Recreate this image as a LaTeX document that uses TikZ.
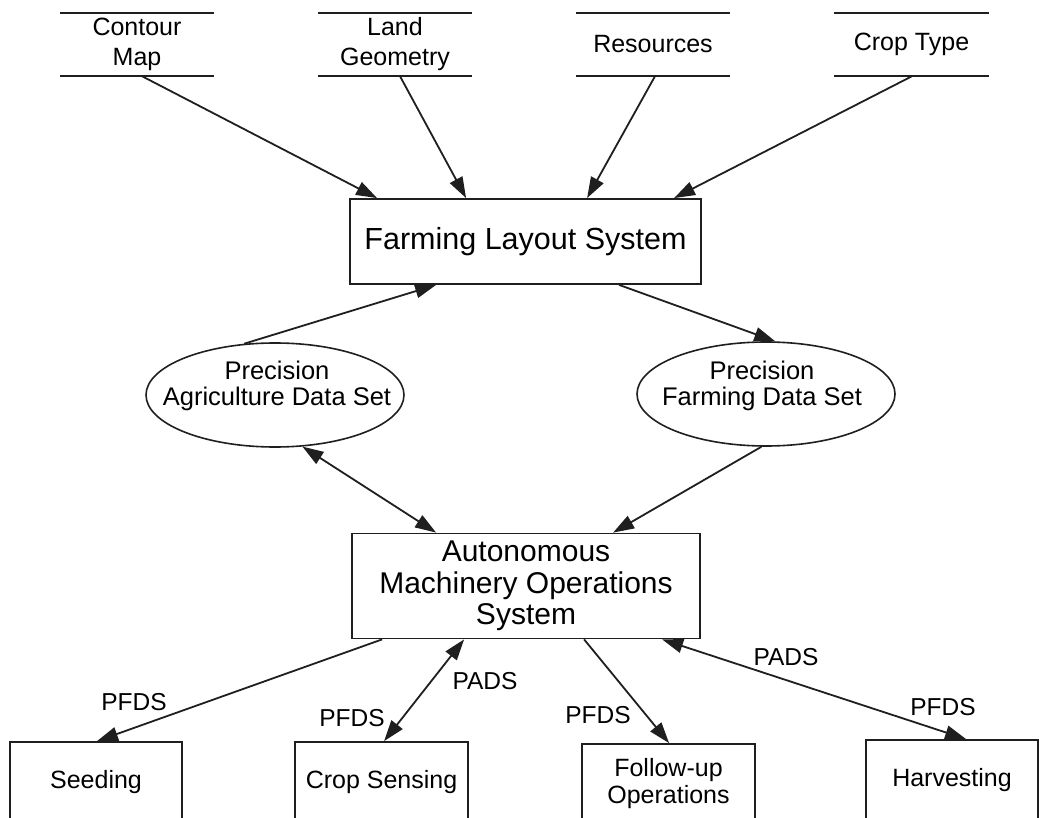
\documentclass[tikz,border=0pt]{standalone}
\usepackage{fontspec}
\setmainfont{Liberation Sans}
\usetikzlibrary{arrows.meta,shapes.geometric}
\tikzset{
  ink/.style={draw=black!88},
  boxnode/.style={ink, line width=1.8pt, rectangle, inner sep=0pt, align=center},
  storeline/.style={ink, line width=1.9pt},
  store/.style={rectangle, inner sep=0pt, minimum width=154pt, minimum height=63pt, align=center,
    font=\fontsize{25}{30}\selectfont,
    append after command={(\tikzlastnode.north west) edge[storeline] (\tikzlastnode.north east)
      (\tikzlastnode.south west) edge[storeline] (\tikzlastnode.south east)}},
  dset/.style={ink, ellipse, line width=1.6pt, minimum width=258pt, minimum height=104pt, inner sep=0pt},
  dtext/.style={align=center, font=\fontsize{25.5}{25.5}\selectfont, inner sep=0pt},
  lbl/.style={font=\fontsize{24.5}{26}\selectfont, inner sep=0pt},
  tip/.style={},
  arr/.style={ink, line width=1.8pt, -{Triangle[length=21pt,width=14pt]}},
  biarr/.style={ink, line width=1.8pt, {Triangle[length=21pt,width=14pt]}-{Triangle[length=21pt,width=14pt]}},
}
\begin{document}
\begin{tikzpicture}[x=1pt,y=-1pt]
\path[use as bounding box] (0,0) rectangle (1039,818);
\clip (0,0) rectangle (1039,818);
\fill[white] (0,0) rectangle (1039,818);

% data stores
\node[store] (cm) at (137,44.5) {Contour\\Map};
\node[store] (lg) at (395,44.5) {Land\\Geometry};
\node[store] (rs) at (653,44.5) {Resources};
\node[store] (ct) at (911.5,44.5) {Crop Type};

% main boxes
\node[boxnode, minimum width=351pt, minimum height=85pt, font=\fontsize{30.5}{32}\selectfont]
  (fls) at (525.5,241.5) {Farming Layout System};
\node[boxnode, minimum width=348pt, minimum height=105pt, font=\fontsize{30}{31.5}\selectfont]
  (ams) at (526,586) {Autonomous\\Machinery Operations\\System};

% data sets
\node[dset] (pads) at (275,395) {};
\node[dtext] (padsT) at (277,386) {Precision\\Agriculture Data Set};
\node[dset] (pfds) at (766,394) {};
\node[dtext] (pfdsT) at (762,386) {Precision\\Farming Data Set};

% bottom boxes
\node[boxnode, minimum width=172pt, minimum height=80pt, font=\fontsize{25}{27}\selectfont]
  (seed) at (96,782) {Seeding};
\node[boxnode, minimum width=173pt, minimum height=80pt, font=\fontsize{25}{27}\selectfont]
  (cs) at (381.5,782) {Crop Sensing};
\node[boxnode, minimum width=173pt, minimum height=80pt, font=\fontsize{25}{27}\selectfont]
  (fu) at (668.5,784) {Follow-up\\Operations};
\node[boxnode, minimum width=172pt, minimum height=80pt, font=\fontsize{25}{27}\selectfont]
  (hv) at (952,780) {Harvesting};

% arrows into Farming Layout System
\draw[arr] ([xshift=5pt]cm.south) -- ([xshift=28pt]fls.north west);
\draw[arr] ([xshift=5pt]lg.south) -- ([xshift=117pt]fls.north west);
\draw[arr] ([xshift=2pt]rs.south) -- ([xshift=238pt]fls.north west);
\draw[arr] ([xshift=0.5pt]ct.south) -- ([xshift=325pt]fls.north west);

% data set arrows
\draw[arr] (pads.121) -- ([xshift=87pt]fls.south west);
\draw[arr] ([xshift=270pt]fls.south west) -- (pfds.80);
\draw[biarr] (pads.-62) -- ([xshift=85pt]ams.north west);
\draw[arr] (pfds.265) -- ([xshift=262pt]ams.north west);

% arrows to bottom boxes
\draw[arr] ([xshift=31pt]ams.south west) -- ([xshift=1pt]seed.north);
\draw[biarr] ([xshift=113pt]ams.south west) -- ([xshift=90pt]cs.north west);
\draw[arr] ([xshift=233pt]ams.south west) -- ([xshift=88pt]fu.north west);
\draw[biarr] ([xshift=311pt]ams.south west) -- ([xshift=101pt]hv.north west);

% labels
\node[lbl] (l1) at (134,702) {PFDS};
\node[lbl] (l2) at (485,681) {PADS};
\node[lbl] (l3) at (352,718) {PFDS};
\node[lbl] (l4) at (598,715) {PFDS};
\node[lbl] (l5) at (786,657) {PADS};
\node[lbl] (l6) at (943,707) {PFDS};
\end{tikzpicture}
\end{document}
